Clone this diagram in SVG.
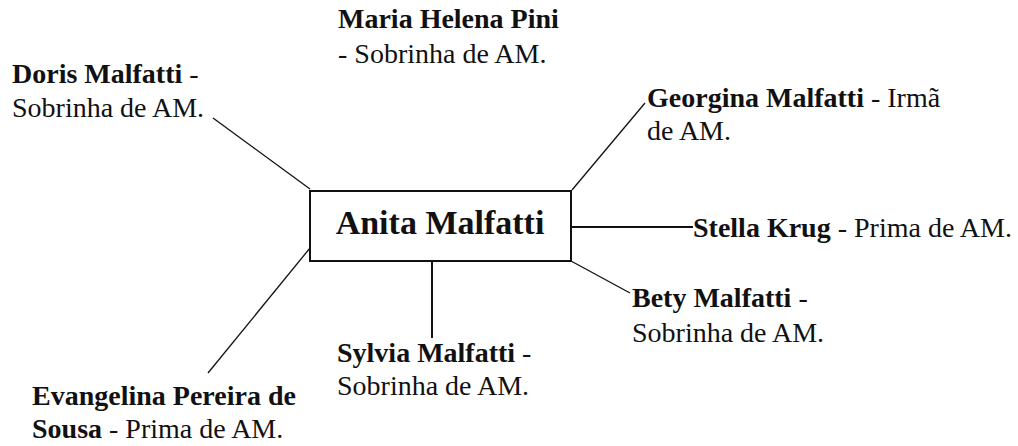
<svg xmlns="http://www.w3.org/2000/svg" width="1018" height="446" viewBox="0 0 1018 446">
<style>
text{font-family:"Liberation Serif","Times New Roman",serif;font-size:28px;fill:#111}
.b{font-weight:bold}
.thin{stroke:#111;stroke-width:1.3;fill:none}
.thick{stroke:#111;stroke-width:2;fill:none}
</style>
<rect width="1018" height="446" fill="#fff"/>
<g id="connectors">
<line class="thin" x1="213" y1="118" x2="310" y2="189"/>
<line class="thin" x1="645" y1="103" x2="572" y2="190"/>
<line class="thick" x1="571" y1="227" x2="693" y2="227"/>
<line class="thin" x1="571" y1="261" x2="630" y2="293"/>
<line class="thick" x1="432" y1="261" x2="432" y2="338"/>
<line class="thin" x1="310" y1="248" x2="208" y2="373"/>
</g>
<g id="center">
<rect x="310" y="191" width="261" height="70" fill="#fff" stroke="#111" stroke-width="2"/>
<text class="b" x="440" y="234" text-anchor="middle" style="font-size:34px">Anita Malfatti</text>
</g>
<g id="maria">
<text x="338" y="28"><tspan class="b">Maria Helena Pini</tspan></text>
<text x="338" y="63">- Sobrinha de AM.</text>
</g>
<g id="doris">
<text x="12" y="83"><tspan class="b">Doris Malfatti</tspan> -</text>
<text x="12" y="117">Sobrinha de AM.</text>
</g>
<g id="georgina">
<text x="647" y="107"><tspan class="b">Georgina Malfatti</tspan> - Irmã</text>
<text x="647" y="140">de AM.</text>
</g>
<g id="stella">
<text x="693" y="237"><tspan class="b">Stella Krug</tspan> - Prima de AM.</text>
</g>
<g id="bety">
<text x="632" y="307"><tspan class="b">Bety Malfatti</tspan> -</text>
<text x="632" y="342">Sobrinha de AM.</text>
</g>
<g id="sylvia">
<text x="337" y="362"><tspan class="b">Sylvia Malfatti</tspan> -</text>
<text x="337" y="395">Sobrinha de AM.</text>
</g>
<g id="evangelina">
<text x="32" y="405"><tspan class="b">Evangelina Pereira de</tspan></text>
<text x="32" y="438"><tspan class="b">Sousa</tspan> - Prima de AM.</text>
</g>
</svg>
